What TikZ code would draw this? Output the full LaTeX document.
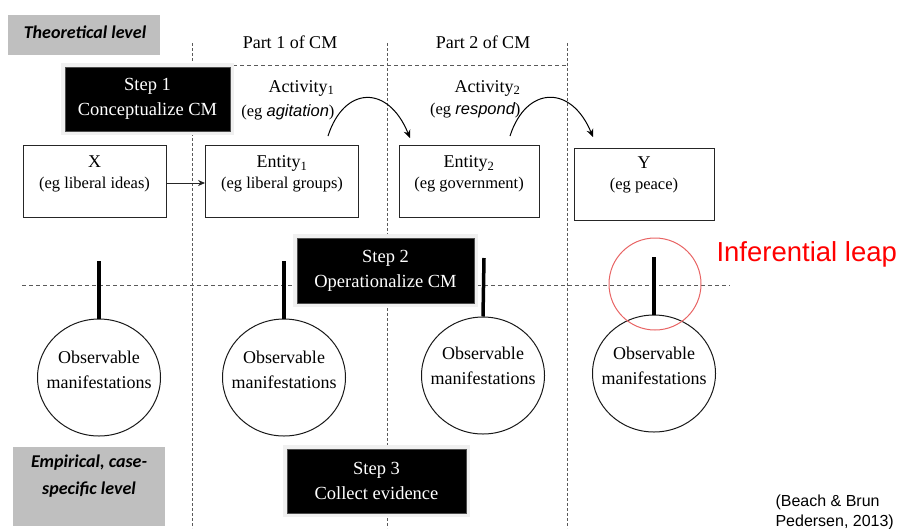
\documentclass[tikz,border=0pt]{standalone}
\usepackage{fontspec}
\setmainfont{Liberation Serif}
\newfontfamily\arialf{Liberation Sans}
\newfontfamily\calibf{Carlito}
\usetikzlibrary{arrows.meta,shapes.geometric}
\definecolor{leapred}{RGB}{232,100,100}
\definecolor{linegray}{RGB}{90,90,90}
\begin{document}
\begin{tikzpicture}[x=1pt,y=-1pt,
  vdot/.style={draw=linegray, line width=1pt, dash pattern=on 2.5pt off 2.5pt},
  hdash/.style={draw=linegray, line width=0.9pt, dash pattern=on 4pt off 3pt},
  levelbox/.style={fill=gray!50, draw=none, inner sep=0pt},
  halo/.style={fill=gray!12, draw=none, inner sep=0pt},
  stepbox/.style={fill=black, draw=gray!60!black, line width=0.8pt, text=white, align=center, inner sep=0pt, font=\fontsize{18.5}{25}\selectfont},
  entbox/.style={draw=gray!30!black, line width=0.9pt, fill=white, inner sep=0pt, minimum width=#1, minimum height=72pt},
  entbox/.default=152pt,
  etext/.style={align=center, font=\fontsize{18}{21}\selectfont},
  stem/.style={line width=3.5pt},
  obs/.style={draw=gray!20!black, line width=1pt, ellipse, minimum width=123pt, minimum height=117pt, inner sep=0pt},
  obstext/.style={align=center, font=\fontsize{18}{25}\selectfont},
  curvearrow/.style={line width=1pt, -{Stealth[length=8pt,width=7pt]}},
  plainarrow/.style={line width=1pt, draw=gray!30!black, -{Stealth[length=7pt,width=6pt]}}
]
\useasboundingbox (0,0) rectangle (899,528);

% level labels
\node[levelbox, minimum width=152pt, minimum height=40pt] (theo) at (84,35) {};
\node[font=\calibf\bfseries\itshape\fontsize{18}{20}\selectfont] (theotext) at (85,32) {Theoretical level};
\node[levelbox, minimum width=152pt, minimum height=79pt] (emp) at (89,486.5) {};
\node[font=\calibf\bfseries\itshape\fontsize{18}{27}\selectfont, align=center] (emptext) at (89,476) {Empirical, case-\\specific level};

% grid lines
\coordinate (v1t) at (192,43); \coordinate (v1b) at (192,528);
\coordinate (v2t) at (387,43); \coordinate (v2b) at (387,528);
\coordinate (v3t) at (567,43); \coordinate (v3b) at (567,528);
\coordinate (h1l) at (233,65); \coordinate (h1r) at (567,65);
\coordinate (h2l) at (22,285); \coordinate (h2r) at (730,285);
\draw[vdot] (v1t) -- (v1b);
\draw[vdot] (v2t) -- (v2b);
\draw[vdot] (v3t) -- (v3b);
\draw[hdash] (h1l) -- (h1r);
\draw[hdash] (h2l) -- (h2r);

% part labels
\node[font=\fontsize{18}{22}\selectfont] (part1) at (290,42) {Part 1 of CM};
\node[font=\fontsize{18}{22}\selectfont] (part2) at (483,42) {Part 2 of CM};

% step boxes
\node[halo, minimum width=173pt, minimum height=72pt] (s1halo) at (147.5,99) {};
\node[stepbox, minimum width=165pt, minimum height=64pt] (step1) at (147.5,99) {Step 1\\Conceptualize CM};
\node[halo, minimum width=185pt, minimum height=73pt] (s2halo) at (385.5,270.5) {};
\node[stepbox, minimum width=177pt, minimum height=65pt] (step2) at (385.5,270.5) {Step 2\\Operationalize CM};
\node[halo, minimum width=187pt, minimum height=72pt] (s3halo) at (376.5,481) {};
\node[stepbox, minimum width=179pt, minimum height=64pt] (step3) at (376.5,481) {Step 3\\Collect evidence};

% entity boxes
\node[entbox=143pt] (X) at (94.5,181) {};
\node[etext] (Xt) at (94.5,174) {X\\{\fontsize{16.5}{20}\selectfont (eg liberal ideas)}};
\node[entbox=153pt] (E1) at (282,181) {};
\node[etext] (E1t) at (282,174) {Entity\textsubscript{1}\\{\fontsize{16.5}{20}\selectfont (eg liberal groups)}};
\node[entbox=140pt] (E2) at (469,181) {};
\node[etext] (E2t) at (469,174) {Entity\textsubscript{2}\\{\fontsize{16.5}{20}\selectfont (eg government)}};
\node[entbox=140pt] (Y) at (644,184) {};
\node[etext] (Yt) at (644,175) {Y\\{\fontsize{16.5}{20}\selectfont (eg peace)}};

\draw[plainarrow] ([yshift=-2pt]X.east) -- ([yshift=-2pt]E1.west);

% activities
\node[anchor=east, font=\fontsize{18}{22}\selectfont] (act1) at (338,88) {Activity\textsubscript{1}};
\node[anchor=east, font=\fontsize{16.5}{20}\selectfont] (act1e) at (338,112) {(eg {\arialf\itshape agitation})};
\node[anchor=east, font=\fontsize{18}{22}\selectfont] (act2) at (524,88) {Activity\textsubscript{2}};
\node[anchor=east, font=\fontsize{16.5}{20}\selectfont] (act2e) at (524,110) {(eg {\arialf\itshape respond})};

\coordinate (a1s) at (328,136); \coordinate (a1e) at (410,138);
\coordinate (a2s) at (510,136); \coordinate (a2e) at (593,137);
\draw[curvearrow] (a1s) .. controls (344,86) and (388,84) .. (a1e);
\draw[curvearrow] (a2s) .. controls (526,86) and (571,84) .. (a2e);

% observable manifestations
\node[obs] (c1) at (99,377.5) {};
\node[obstext] (c1t) at (99,369.5) {Observable\\manifestations};
\node[obs] (c2) at (284,377.5) {};
\node[obstext] (c2t) at (284,369.5) {Observable\\manifestations};
\node[obs] (c3) at (483,375.5) {};
\node[obstext] (c3t) at (483,365.5) {Observable\\manifestations};
\node[obs] (c4) at (654,373.5) {};
\node[obstext] (c4t) at (654,365.5) {Observable\\manifestations};

\coordinate (st1) at (99,261);
\coordinate (st2) at (284,261);
\coordinate (st3) at (484,258);
\coordinate (st4) at (654,257);
\draw[stem] (st1) -- (c1.north);
\draw[stem] (st2) -- (c2.north);
\draw[stem] (st3) -- (c3.north);
\draw[stem] (st4) -- (c4.north);

% inferential leap
\node[circle, draw=leapred, line width=1pt, minimum size=92pt, inner sep=0pt] (leapc) at (655,284) {};
\node[anchor=west, text=red, font=\arialf\fontsize{27.5}{30}\selectfont] (leap) at (713,254) {Inferential leap};

% citation
\node[anchor=west, align=left, font=\arialf\fontsize{16}{20}\selectfont] (cite) at (772,512) {(Beach \& Brun\\Pedersen, 2013)};
\end{tikzpicture}
\end{document}
